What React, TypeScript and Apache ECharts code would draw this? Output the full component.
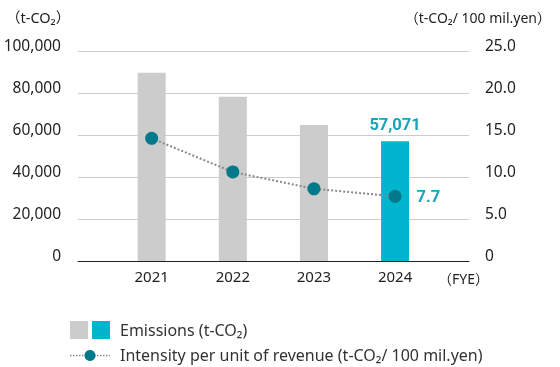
import React, { useEffect, useRef } from "react";
import * as echarts from "echarts";

const years = [2021, 2022, 2023, 2024];
const emissions = [89700, 78200, 64800, 57071];
const intensity = [14.6, 10.6, 8.6, 7.7];
const leftTicks = [0, 20000, 40000, 60000, 80000, 100000];
const rightTicks = [0, 5, 10, 15, 20, 25];

const FONT = "'Noto Sans', 'Noto Sans CJK JP', sans-serif";
const NUMFONT = "Roboto, 'Noto Sans', sans-serif";
const GRAY = "#cccccc";
const CYAN = "#00b5cd";
const DOT = "#00798c";
const LABEL = "#1aa3bd";

export default function App() {
  const ref = useRef<HTMLDivElement>(null);
  useEffect(() => {
    if (!ref.current) return;
    const chart = echarts.init(ref.current, null, { renderer: "svg" });
    chart.setOption({
      animation: false,
      textStyle: { fontFamily: FONT },
      grid: { left: 78, right: 91, top: 51, bottom: 106 },
      xAxis: {
        type: "value",
        min: 2020.092,
        max: 2024.911,
        axisLine: { show: true, onZero: false, lineStyle: { color: "#222", width: 1 } },
        axisTick: { show: false },
        splitLine: { show: false },
        axisLabel: {
          customValues: years,
          formatter: (v: number) => String(v),
          color: "#222",
          fontSize: 15,
          margin: 7,
          fontFamily: FONT,
        },
      },
      yAxis: [
        {
          type: "value",
          min: leftTicks[0],
          max: leftTicks[leftTicks.length - 1],
          interval: 20000,
          axisLine: { show: false },
          axisTick: { show: false },
          splitLine: { lineStyle: { color: "#cccccc", width: 1 } },
          axisLabel: {
            formatter: (v: number) => v.toLocaleString("en-US"),
            color: "#222",
            fontSize: 15.5,
            margin: 17,
            verticalAlign: "bottom",
            lineHeight: 13,
            fontFamily: FONT,
          },
        },
        {
          type: "value",
          min: rightTicks[0],
          max: rightTicks[rightTicks.length - 1],
          interval: 5,
          axisLine: { show: false },
          axisTick: { show: false },
          splitLine: { show: false },
          axisLabel: {
            formatter: (v: number) => (v === 0 ? "0" : v.toFixed(1)),
            color: "#222",
            fontSize: 15.5,
            margin: 16,
            verticalAlign: "bottom",
            lineHeight: 13,
            fontFamily: FONT,
          },
        },
      ],
      series: [
        {
          type: "bar",
          yAxisIndex: 0,
          barWidth: 28,
          data: years.map((y, i) => ({
            value: [y, emissions[i]],
            itemStyle: { color: i === years.length - 1 ? CYAN : GRAY },
            label:
              i === years.length - 1
                ? {
                    show: true,
                    position: "top",
                    distance: 8,
                    formatter: () => emissions[i].toLocaleString("en-US"),
                    color: LABEL,
                    fontSize: 16.5,
                    fontWeight: "bold",
                    fontFamily: NUMFONT,
                  }
                : { show: false },
          })),
        },
        {
          type: "line",
          yAxisIndex: 1,
          symbol: "circle",
          symbolSize: 13,
          itemStyle: { color: DOT },
          lineStyle: { color: "#8a8a8a", width: 2, type: "dotted" },
          data: years.map((y, i) => ({
            value: [y, intensity[i]],
            label:
              i === years.length - 1
                ? {
                    show: true,
                    position: "right",
                    distance: 15,
                    formatter: () => intensity[i].toFixed(1),
                    color: LABEL,
                    fontSize: 16.5,
                    fontWeight: "bold",
                    fontFamily: NUMFONT,
                  }
                : { show: false },
          })),
        },
      ],
      graphic: [
        {
          type: "text",
          x: 6,
          y: 17,
          style: { text: "（t-CO₂）", fill: "#222", font: `14.5px ${FONT}`, verticalAlign: "middle" },
        },
        {
          type: "text",
          x: 551,
          y: 17,
          style: {
            text: "（t-CO₂/ 100 mil.yen）",
            fill: "#222",
            font: `14px ${FONT}`,
            align: "right",
            verticalAlign: "middle",
          },
        },
        {
          type: "text",
          x: 438,
          y: 278,
          style: { text: "（FYE）", fill: "#222", font: `14px ${FONT}`, verticalAlign: "middle" },
        },
        { type: "rect", shape: { x: 70, y: 321, width: 18, height: 18 }, style: { fill: GRAY } },
        { type: "rect", shape: { x: 92, y: 321, width: 18, height: 18 }, style: { fill: CYAN } },
        {
          type: "text",
          x: 120,
          y: 330,
          style: {
            text: "Emissions (t-CO₂)",
            fill: "#333",
            font: `16px ${FONT}`,
            verticalAlign: "middle",
          },
        },
        {
          type: "line",
          shape: { x1: 70, y1: 355.5, x2: 110, y2: 355.5 },
          style: { stroke: "#8a8a8a", lineWidth: 1.5, lineDash: [1.5, 1.5] },
        },
        { type: "circle", shape: { cx: 90, cy: 355.5, r: 5.5 }, style: { fill: DOT } },
        {
          type: "text",
          x: 120,
          y: 355,
          style: {
            text: "Intensity per unit of revenue (t-CO₂/ 100 mil.yen)",
            fill: "#333",
            font: `16px ${FONT}`,
            verticalAlign: "middle",
          },
        },
      ],
    });
    return () => chart.dispose();
  }, []);
  return (
    <div
      ref={ref}
      style={{ position: "fixed", left: 0, top: 0, width: 560, height: 367 }}
    />
  );
}
